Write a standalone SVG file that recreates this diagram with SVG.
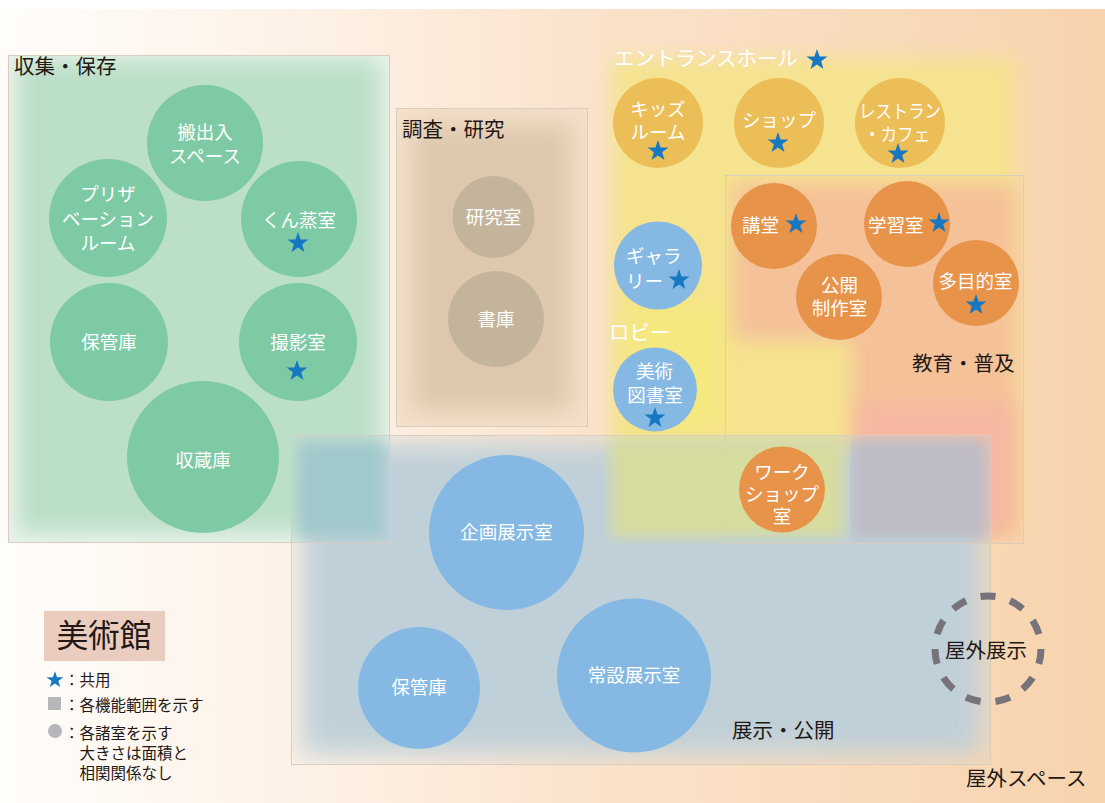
<svg xmlns="http://www.w3.org/2000/svg" xmlns:xlink="http://www.w3.org/1999/xlink" width="1105" height="803" viewBox="0 0 1105 803">
<defs>
<style>
text { font-family: 'Noto Sans CJK JP', 'Noto Sans', sans-serif; }
.room { fill:#ffffff; font-size:18.5px; text-anchor:middle; dominant-baseline:central; }
.rooms { fill:#ffffff; font-size:18.5px; text-anchor:start; dominant-baseline:central; }
.area { fill:#231815; font-size:20.5px; }
.areaw { fill:#ffffff; font-size:20.5px; }
.leg { fill:#231815; font-size:15.5px; dominant-baseline:central; }
.star { fill:#1778c2; }
.frame { fill:none; stroke:#d9cdbf; stroke-width:1; }
.g { fill:#7ecaa5; }
.t { fill:#c4b49c; }
.y { fill:#ecbe58; }
.o { fill:#e8934a; }
.b { fill:#85b9e3; }
</style>
<linearGradient id="bg" x1="0" y1="0" x2="1" y2="0">
<stop offset="0" stop-color="#fffdfa"/>
<stop offset="0.3" stop-color="#fdf0e4"/>
<stop offset="0.55" stop-color="#fae2ca"/>
<stop offset="1" stop-color="#f7d3ad"/>
</linearGradient>
<filter id="soft" x="-20%" y="-20%" width="140%" height="140%"><feGaussianBlur stdDeviation="10"/></filter>
<filter id="soft2" x="-20%" y="-20%" width="140%" height="140%"><feGaussianBlur stdDeviation="14"/></filter>
<filter id="soft3" x="-20%" y="-20%" width="140%" height="140%"><feGaussianBlur stdDeviation="7"/></filter>
<clipPath id="cGreen"><rect x="8" y="55" width="382" height="488"/></clipPath>
<clipPath id="cRes"><rect x="396" y="108" width="192" height="319"/></clipPath>
<clipPath id="cEdu"><rect x="725" y="175" width="299" height="369"/></clipPath>
<clipPath id="cExh"><rect x="291" y="435" width="700" height="330"/></clipPath>
<clipPath id="cOv1"><rect x="291" y="435" width="99" height="108"/></clipPath>
<clipPath id="cOv2"><rect x="603" y="435" width="247" height="109"/></clipPath>
<clipPath id="cOv3"><rect x="850" y="435" width="141" height="109"/></clipPath>
<path id="star" d="M0,-11 L2.59,-3.56 L10.46,-3.4 L4.18,1.36 L6.47,8.9 L0,4.4 L-6.47,8.9 L-4.18,1.36 L-10.46,-3.4 L-2.59,-3.56 Z"/>
</defs>

<rect x="0" y="0" width="1105" height="803" fill="#ffffff"/>
<rect x="0" y="9" width="1105" height="794" fill="url(#bg)"/>

<g id="area-collection">
<g clip-path="url(#cGreen)">
<rect x="8" y="55" width="382" height="488" fill="#e9f3ea"/>
<rect x="18" y="60" width="362" height="472" fill="#bcdfc8" filter="url(#soft)"/>
</g>
</g>

<g id="area-research">
<g clip-path="url(#cRes)">
<rect x="396" y="108" width="192" height="319" fill="#f6e2cd"/>
<rect x="410" y="122" width="164" height="291" fill="#dec8ad" filter="url(#soft2)"/>
</g>
</g>

<g id="area-entrance">
<rect x="611" y="58" width="405" height="476" fill="#f5e38f" filter="url(#soft)"/>
<rect x="628" y="300" width="95" height="130" fill="#f4e87e" filter="url(#soft2)"/>
</g>

<g id="area-education">
<g clip-path="url(#cEdu)">
<path d="M733,183 L1016,183 L1016,536 L852,536 L852,340 L733,340 Z" fill="#f5c199" filter="url(#soft)"/>
<rect x="858" y="402" width="156" height="132" fill="#f6b8a2" filter="url(#soft)"/>
</g>
</g>

<g id="area-exhibition">
<g clip-path="url(#cExh)">
<rect x="301" y="443" width="682" height="312" fill="#c0d0d9" filter="url(#soft2)"/>
</g>
<g clip-path="url(#cOv1)">
<rect x="299" y="443" width="85" height="94" fill="#a0c9cb" filter="url(#soft3)"/>
</g>
<g clip-path="url(#cOv2)">
<rect x="611" y="441" width="233" height="96" fill="#d7dc9f" filter="url(#soft3)"/>
</g>
<g clip-path="url(#cOv3)">
<rect x="852" y="441" width="133" height="97" fill="#bebbc6" filter="url(#soft3)"/>
</g>
</g>

<g id="frames">
<rect class="frame" x="8.5" y="55.5" width="381" height="487"/>
<rect class="frame" x="396.5" y="108.5" width="191" height="318"/>
<rect class="frame" x="725.5" y="175.5" width="298" height="368"/>
<rect class="frame" x="291.5" y="435.5" width="699" height="329"/>
</g>

<g id="connectors"/>

<g id="area-labels">
<text class="area" x="14" y="73.5">収集・保存</text>
<text class="area" x="402" y="136.5">調査・研究</text>
<text class="areaw" x="614" y="66">エントランスホール</text>
<use xlink:href="#star" class="star" x="817" y="60"/>
<text class="areaw" x="609" y="340">ロビー</text>
<text class="area" x="912" y="370.5">教育・普及</text>
<text class="area" x="732" y="737.5">展示・公開</text>
<text class="area" x="966" y="786">屋外スペース</text>
</g>

<g id="n-hanshutsu"><circle class="g" cx="205" cy="143" r="58"/><text class="room" x="205" y="131">搬出入</text><text class="room" x="205" y="154.5">スペース</text></g>
<g id="n-preservation"><circle class="g" cx="108" cy="218" r="59"/><text class="room" x="108" y="193">プリザ</text><text class="room" x="108" y="217.5">ベーション</text><text class="room" x="108" y="242">ルーム</text></g>
<g id="n-kunjo"><circle class="g" cx="299" cy="219" r="58"/><text class="room" x="299" y="218.5">くん蒸室</text><use xlink:href="#star" class="star" x="298" y="243"/></g>
<g id="n-hokan1"><circle class="g" cx="109" cy="342" r="59"/><text class="room" x="109" y="341">保管庫</text></g>
<g id="n-satsuei"><circle class="g" cx="298" cy="342" r="59"/><text class="room" x="298" y="340.5">撮影室</text><use xlink:href="#star" class="star" x="297" y="371"/></g>
<g id="n-shuzo"><circle class="g" cx="203" cy="457" r="76"/><text class="room" x="203" y="458.5">収蔵庫</text></g>

<g id="n-kenkyu"><circle class="t" cx="493.5" cy="217" r="41"/><text class="room" x="493.5" y="216">研究室</text></g>
<g id="n-shoko"><circle class="t" cx="496" cy="319" r="48"/><text class="room" x="496" y="318">書庫</text></g>

<g id="n-kids"><circle class="y" cx="658" cy="123" r="45"/><text class="room" x="658" y="108">キッズ</text><text class="room" x="658" y="131">ルーム</text><use xlink:href="#star" class="star" x="658" y="151"/></g>
<g id="n-shop"><circle class="y" cx="779" cy="123" r="45"/><text class="room" x="779" y="119">ショップ</text><use xlink:href="#star" class="star" x="778" y="143"/></g>
<g id="n-rest"><circle class="y" cx="900" cy="123" r="45"/><text class="room" x="900" y="109.5" textLength="82" lengthAdjust="spacingAndGlyphs">レストラン</text><text class="room" x="897" y="132.5" textLength="66" lengthAdjust="spacingAndGlyphs">・カフェ</text><use xlink:href="#star" class="star" x="898" y="154"/></g>

<g id="n-kodo"><circle class="o" cx="774" cy="226" r="43"/><text class="rooms" x="742" y="224">講堂</text><use xlink:href="#star" class="star" x="796" y="224"/></g>
<g id="n-gakushu"><circle class="o" cx="907" cy="224" r="43"/><text class="rooms" x="868" y="224">学習室</text><use xlink:href="#star" class="star" x="939" y="223"/></g>
<g id="n-kokai"><circle class="o" cx="839" cy="297" r="43"/><text class="room" x="839.5" y="283.5">公開</text><text class="room" x="839.5" y="306.5">制作室</text></g>
<g id="n-tamokuteki"><circle class="o" cx="976" cy="283" r="43"/><text class="room" x="975.5" y="279.5">多目的室</text><use xlink:href="#star" class="star" x="976" y="305"/></g>
<g id="n-workshop"><circle class="o" cx="782" cy="489.5" r="43"/><text class="room" x="782" y="471">ワーク</text><text class="room" x="782" y="492.5">ショップ</text><text class="room" x="782" y="514.5">室</text></g>

<g id="n-gallery"><circle class="b" cx="658" cy="265.5" r="44"/><text class="rooms" x="626" y="255">ギャラ</text><text class="rooms" x="626" y="280">リー</text><use xlink:href="#star" class="star" x="679" y="280"/></g>
<g id="n-library"><circle class="b" cx="655" cy="389.5" r="42"/><text class="room" x="654.5" y="370">美術</text><text class="room" x="655" y="394">図書室</text><use xlink:href="#star" class="star" x="655" y="418"/></g>
<g id="n-kikaku"><circle class="b" cx="506.5" cy="532.5" r="77.5"/><text class="room" x="506.5" y="530.5">企画展示室</text></g>
<g id="n-hokan2"><circle class="b" cx="419" cy="688" r="61"/><text class="room" x="419" y="685.5">保管庫</text></g>
<g id="n-josetsu"><circle class="b" cx="634" cy="675.5" r="77"/><text class="room" x="634" y="674">常設展示室</text></g>

<g id="n-outdoor">
<circle cx="988" cy="649" r="53" fill="none" stroke="#77737a" stroke-width="7" pathLength="110" stroke-dasharray="5 5"/>
<text x="986" y="649" style="fill:#231815;font-size:20.5px;text-anchor:middle;dominant-baseline:central">屋外展示</text>
</g>

<g id="legend">
<rect x="44" y="611" width="121" height="50" fill="#ebcdc0"/>
<text x="104" y="647" style="fill:#231815;font-size:31.5px;text-anchor:middle">美術館</text>
<use xlink:href="#star" class="star" transform="translate(55,680) scale(0.8)"/>
<text class="leg" x="64" y="679">：共用</text>
<rect x="48" y="697" width="13" height="13" fill="#b7b7bb"/>
<text class="leg" x="64" y="704">：各機能範囲を示す</text>
<circle cx="55" cy="731" r="7" fill="#b7b7bb"/>
<text class="leg" x="64" y="732">：各諸室を示す</text>
<text class="leg" x="79.5" y="752">大きさは面積と</text>
<text class="leg" x="79.5" y="772">相関関係なし</text>
</g>
</svg>
